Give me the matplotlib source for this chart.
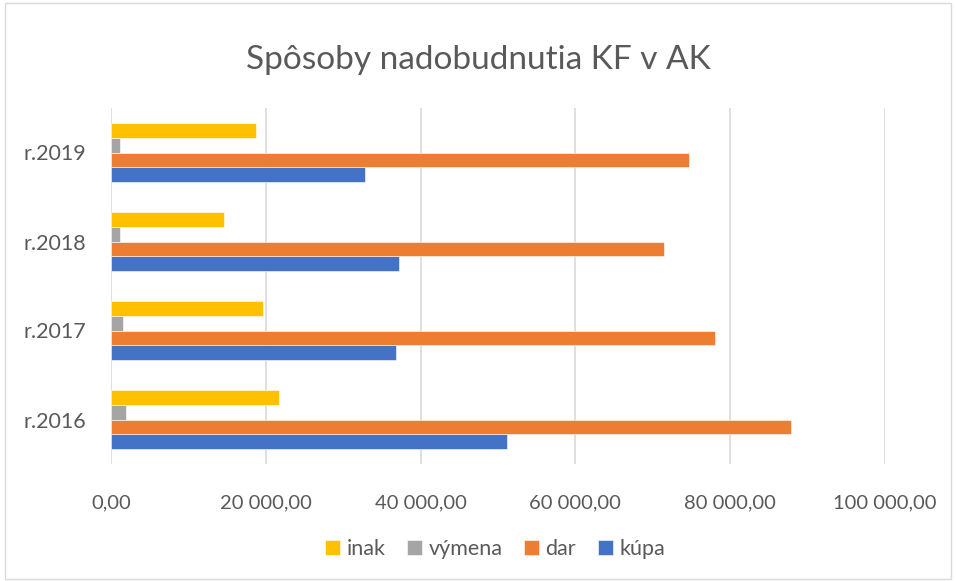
import matplotlib.pyplot as plt
import numpy as np
from matplotlib.patches import Rectangle
from matplotlib.ticker import FuncFormatter

years = ["r.2016", "r.2017", "r.2018", "r.2019"]
kupa = [51100, 36800, 37200, 32800]
dar = [87900, 78000, 71400, 74700]
vymena = [1900, 1500, 1200, 1200]
inak = [21700, 19700, 14600, 18700]

series = [
    ("kúpa", kupa, "#4472C4"),
    ("dar", dar, "#ED7D31"),
    ("výmena", vymena, "#A5A5A5"),
    ("inak", inak, "#FFC000"),
]

plt.rcParams["font.family"] = ["Lato", "DejaVu Sans"]
text_color = "#595959"


def fmt(v, _pos):
    s = f"{v:,.2f}".replace(",", " ").replace(".", ",")
    return s


fig = plt.figure(figsize=(9.56, 5.81), dpi=100)
ax = fig.add_axes([111 / 956, 1 - 464 / 581, (885 - 111) / 956, (464 - 108) / 581])

pos = np.arange(len(years))
h = 0.168
handles = []
for i, (name, vals, color) in enumerate(series):
    offset = (i - 1.5) * h
    b = ax.barh(pos + offset, vals, height=h, color=color, edgecolor="white",
                linewidth=0.4, label=name, zorder=3)
    handles.append(b)

ax.set_xlim(0, 100000)
ax.set_ylim(-0.5, len(years) - 0.5)
ax.set_xticks(np.arange(0, 100001, 20000))
ax.xaxis.set_major_formatter(FuncFormatter(fmt))
ax.set_yticks(pos)
ax.set_yticklabels(years)
ax.grid(True, axis="x", color="#D9D9D9", linewidth=1.2, zorder=0)
for s in ax.spines.values():
    s.set_visible(False)
ax.tick_params(axis="both", length=0, labelsize=14.5, colors=text_color)
ax.tick_params(axis="x", pad=22)
ax.tick_params(axis="y", labelsize=15.5, pad=18)

fig.text(0.5, 1 - 60 / 581, "Spôsoby nadobudnutia KF v AK", ha="center", va="center",
         fontsize=24, color=text_color)

leg = fig.legend(handles[::-1], [s[0] for s in series][::-1], loc="center",
                 bbox_to_anchor=(495 / 956, 1 - 549 / 581), ncol=4, frameon=False,
                 fontsize=15.5, handlelength=0.7, handleheight=0.7, handletextpad=0.3,
                 columnspacing=1.0, labelcolor=text_color)

fig.patches.append(Rectangle((5 / 956, 2 / 581), 946 / 956, 576 / 581, transform=fig.transFigure,
                             fill=False, edgecolor="#D9D9D9", linewidth=1))

fig.savefig("out.png", dpi=100)
